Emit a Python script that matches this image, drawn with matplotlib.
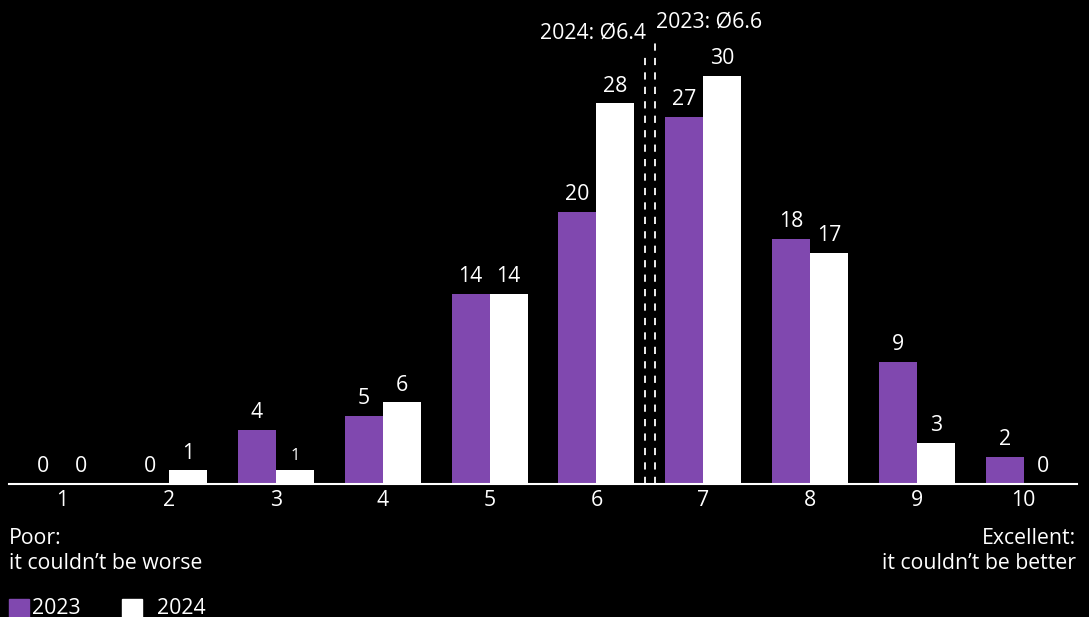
import matplotlib.pyplot as plt
import numpy as np

plt.rcParams['font.family'] = ['Open Sans', 'DejaVu Sans']

categories = ["1", "2", "3", "4", "5", "6", "7", "8", "9", "10"]
vals_2023 = [0, 0, 4, 5, 14, 20, 27, 18, 9, 2]
vals_2024 = [0, 1, 1, 6, 14, 28, 30, 17, 3, 0]
avg_2023 = 6.6
avg_2024 = 6.4

purple = "#8048AF"
bg = "black"
fs = 15.3

fig = plt.figure(figsize=(10.89, 6.17), dpi=100, facecolor=bg)
ax = fig.add_axes([9 / 1089, 133 / 617, 1068 / 1089, 484 / 617])
ax.set_facecolor(bg)

x = np.arange(len(categories))
w = 0.355
ax.bar(x - w / 2, vals_2023, w, color=purple, label="2023")
ax.bar(x + w / 2, vals_2024, w, color="white", label="2024")

for xi, v in zip(x, vals_2023):
    ax.text(xi - w / 2, v + 0.5, str(v), ha="center", va="bottom",
            color="white", fontsize=fs)
for xi, v in zip(x, vals_2024):
    size = 12 if (v == 1 and xi == 2) else fs
    ax.text(xi + w / 2, v + 0.5, str(v), ha="center", va="bottom",
            color="white", fontsize=size)

# average markers between categories 6 and 7
xl = 5.455
xr = 5.55
ax.plot([xl, xl], [0, 31.8], color="white", lw=1.3, ls=(0, (4, 4)), clip_on=False)
ax.plot([xr, xr], [0, 32.7], color="white", lw=1.3, ls=(0, (4, 4)), clip_on=False)
ax.text(xl + 0.01, 33.2, f"2024: Ø{avg_2024}", ha="right", va="center",
        color="white", fontsize=fs)
ax.text(xr + 0.01, 34.0, f"2023: Ø{avg_2023}", ha="left", va="center",
        color="white", fontsize=fs)

ax.set_xlim(-0.5, 9.5)
ax.set_ylim(0, 35.6)
ax.set_xticks(x)
ax.set_xticklabels(categories, color="white", fontsize=fs)
ax.tick_params(axis="x", length=0, pad=4)
ax.set_yticks([])
for s in ["top", "right", "left"]:
    ax.spines[s].set_visible(False)
ax.spines["bottom"].set_color("white")
ax.spines["bottom"].set_linewidth(1.5)

fig.text(9 / 1089, 1 - 551 / 617, "Poor:\nit couldn\u2019t be worse", ha="left",
         va="center", color="white", fontsize=fs, linespacing=1.3)
fig.text(1076 / 1089, 1 - 551 / 617, "Excellent:\nit couldn\u2019t be better",
         ha="right", va="center", color="white", fontsize=fs,
         linespacing=1.3, multialignment="right")

# legend
fig.patches.append(plt.Rectangle((9 / 1089, 0), 20 / 1089, 18 / 617,
                                 transform=fig.transFigure, color=purple))
fig.text(32 / 1089, 9 / 617, "2023", ha="left", va="center", color="white",
         fontsize=fs)
fig.patches.append(plt.Rectangle((122 / 1089, 0), 20 / 1089, 18 / 617,
                                 transform=fig.transFigure, color="white"))
fig.text(157 / 1089, 9 / 617, "2024", ha="left", va="center", color="white",
         fontsize=fs)

fig.savefig("out.png", dpi=100, facecolor=bg)
